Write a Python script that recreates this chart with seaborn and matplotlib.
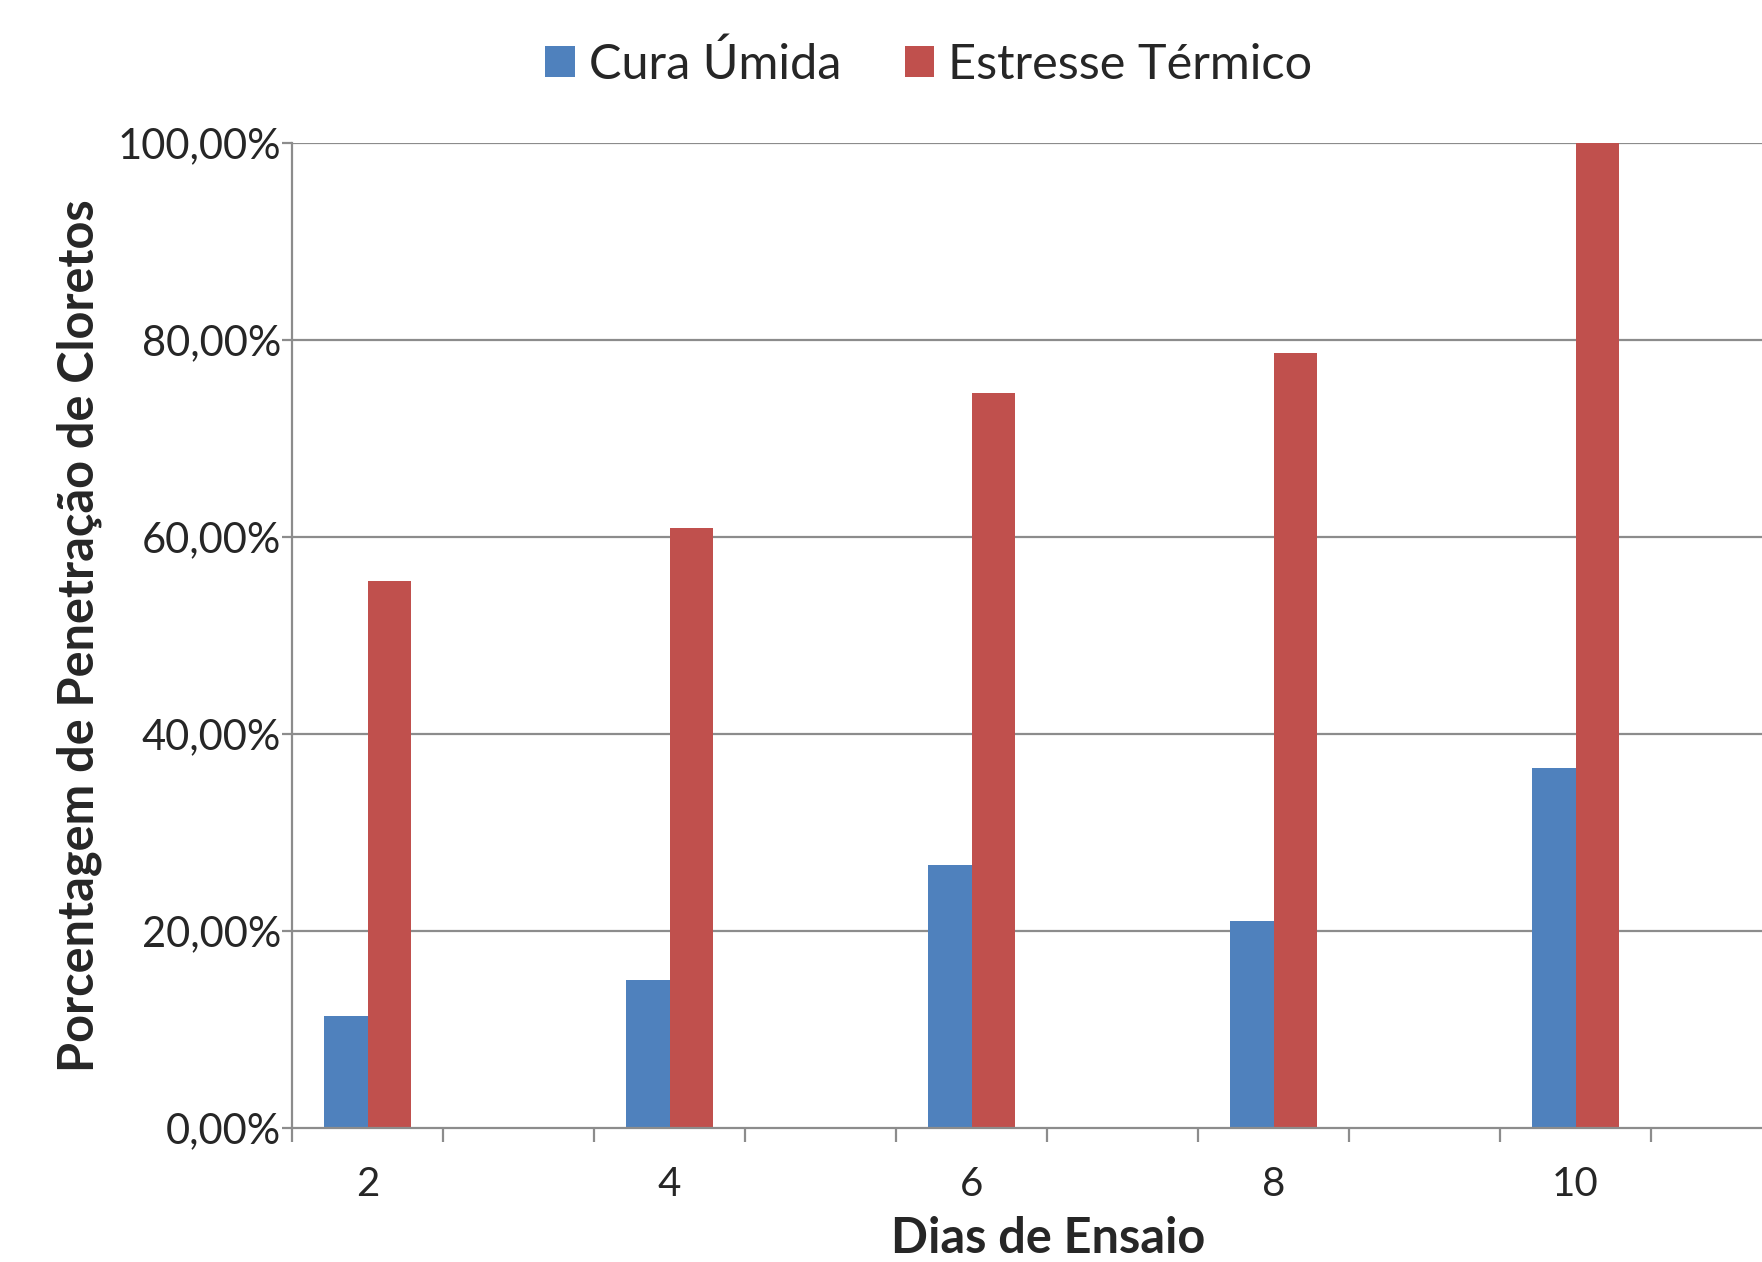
import numpy as np
import pandas as pd
import matplotlib
matplotlib.use("Agg")
import matplotlib.pyplot as plt
import seaborn as sns

# Dias de ensaio (eixo categórico) e resultados por condição de cura
dias_eixo = [2, 3, 4, 5, 6, 7, 8, 9, 10, 11]
dias_medidos = [2, 4, 6, 8, 10]
cura_umida = [11.4, 15.0, 26.7, 21.0, 36.5]
estresse_termico = [55.5, 60.9, 74.6, 78.7, 100.0]
series = ["Cura Úmida", "Estresse Térmico"]
cores = ["#4F81BD", "#C0504D"]
yticks = [0, 20, 40, 60, 80, 100]

df = pd.DataFrame({
    "Dia": [str(d) for d in dias_medidos] * 2,
    "Valor": cura_umida + estresse_termico,
    "Serie": [series[0]] * len(dias_medidos) + [series[1]] * len(dias_medidos),
})

sns.set_theme(style="white")
plt.rcParams["font.family"] = ["Lato", "DejaVu Sans"]

W, H = 1762, 1262
fig = plt.figure(figsize=(W / 100, H / 100), dpi=100)
ax = fig.add_axes([292 / W, 134 / H, 1 - 292 / W, (1128 - 142.7) / H])

sns.barplot(data=df, x="Dia", y="Valor", hue="Serie", order=[str(d) for d in dias_eixo],
            hue_order=series, palette=cores, width=0.57, saturation=1,
            linewidth=0, ax=ax)

ax.set_ylim(0, 100)
ax.set_xlim(-0.5, -0.5 + (W - 292) / 151.0)

grid_c = "#8C8C8C"
ax.set_yticks(yticks)
ax.set_yticklabels([f"{v:.2f}".replace(".", ",") + "%" for v in yticks], fontsize=30)
for y in yticks[1:]:
    ax.axhline(y, color=grid_c, lw=1.6, zorder=0)

# Categorias com marcas nas divisões, rótulos a cada dois dias
ax.set_xticks([i - 0.5 for i in range(len(dias_eixo))], minor=False)
ax.set_xticklabels([])
ax.set_xticks([i for i in range(len(dias_eixo))], minor=True)
ax.set_xticklabels([str(d) if d % 2 == 0 else "" for d in dias_eixo], minor=True, fontsize=29)
ax.tick_params(axis="x", which="major", direction="out", length=10, width=1.6, color=grid_c, bottom=True)
ax.tick_params(axis="x", which="minor", length=0, pad=27, bottom=True)
ax.tick_params(axis="y", direction="out", length=7, width=1.6, color=grid_c, left=True, pad=1)

for s in ["top", "right"]:
    ax.spines[s].set_visible(False)
for s in ["left", "bottom"]:
    ax.spines[s].set_color(grid_c)
    ax.spines[s].set_linewidth(1.6)

ax.set_xlabel("")
ax.set_ylabel("")
fig.text(1048 / W, 1 / H, "Dias de Ensaio", fontsize=35, fontweight="bold",
         ha="center", va="bottom")
fig.text(79 / W, (H - 636) / H, "Porcentagem de Penetração de Cloretos", fontsize=35,
         fontweight="bold", rotation=90, ha="center", va="center")

ax.legend(loc="center", bbox_to_anchor=(929 / W, 1 - 64 / H), bbox_transform=fig.transFigure,
          ncol=2, frameon=False, fontsize=35, handlelength=0.6, handleheight=0.6,
          handletextpad=0.3, columnspacing=1.3, borderaxespad=0, borderpad=0)

fig.savefig("out.png", dpi=100, facecolor="white")
